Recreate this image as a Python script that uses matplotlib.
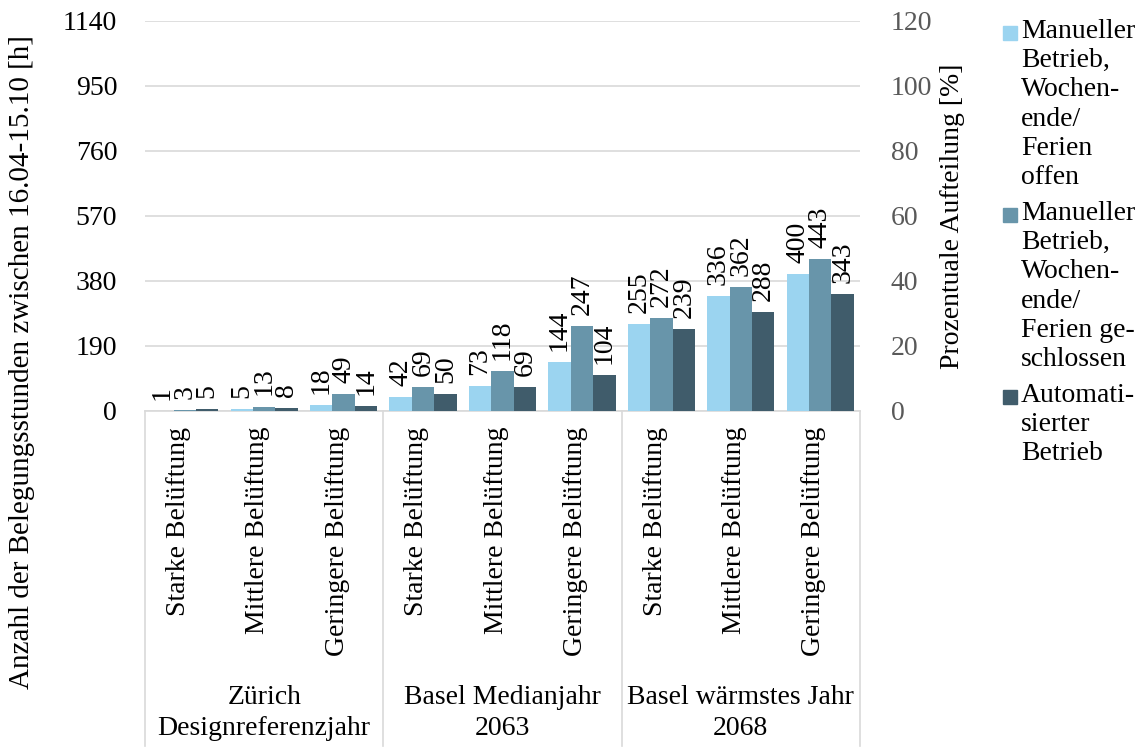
import matplotlib.pyplot as plt
from matplotlib.patches import Rectangle
import numpy as np

plt.rcParams['font.family'] = ['Liberation Serif', 'DejaVu Serif']
plt.rcParams['font.size'] = 20

groups = ["Zürich\nDesignreferenzjahr", "Basel Medianjahr\n2063", "Basel wärmstes Jahr\n2068"]
categories = ["Starke Belüftung", "Mittlere Belüftung", "Geringere Belüftung"] * 3
series_names = [
    "Manueller\nBetrieb,\nWochen-\nende/\nFerien\noffen",
    "Manueller\nBetrieb,\nWochen-\nende/\nFerien ge-\nschlossen",
    "Automati-\nsierter\nBetrieb",
]
offen = [1, 5, 18, 42, 73, 144, 255, 336, 400]
geschlossen = [3, 13, 49, 69, 118, 247, 272, 362, 443]
automatisiert = [5, 8, 14, 50, 69, 104, 239, 288, 343]
colors = ["#9BD4F0", "#6895AA", "#405C6B"]

left_ticks = [0, 190, 380, 570, 760, 950, 1140]
right_ticks = [0, 20, 40, 60, 80, 100, 120]

W, H = 1147, 747
fig = plt.figure(figsize=(W / 100, H / 100), dpi=100)
ax = fig.add_axes([145 / W, 1 - 411 / H, 715 / W, 390 / H])
ax2 = ax.twinx()

x = np.arange(len(categories)) + 0.5
w = 0.282
for i, vals in enumerate([offen, geschlossen, automatisiert]):
    pos = x + (i - 1) * w
    bars = ax.bar(pos, vals, width=w, color=colors[i], zorder=3)
    for b, v in zip(bars, vals):
        ax.annotate(str(v), (b.get_x() + b.get_width() / 2, v), xytext=(0, 8),
                    textcoords="offset points", rotation=90, ha="center", va="bottom")

ax.set_xlim(0, 9)
ax.set_ylim(0, 1140)
ax.set_yticks(left_ticks)
ax.grid(axis="y", color="#d9d9d9", linewidth=1.2, zorder=0)
ax.set_xticks([])
for s in ["top", "left", "right"]:
    ax.spines[s].set_visible(False)
    ax2.spines[s].set_visible(False)
ax.spines["bottom"].set_color("#d9d9d9")
ax.spines["bottom"].set_linewidth(1.2)
ax2.spines["bottom"].set_visible(False)
ax.tick_params(axis="y", length=0, pad=20)

ax2.set_ylim(0, 120)
ax2.set_yticks(right_ticks)
ax2.tick_params(axis="y", length=0, pad=22, labelcolor="#595959")
ax2.set_ylabel("Prozentuale Aufteilung [%]", labelpad=6)

# category and group labels below the axis
trans = ax.get_xaxis_transform()
for xi, c in zip(x, categories):
    ax.text(xi - 0.08, -0.04, c, rotation=90, ha="center", va="top", transform=trans)
for gi, g in enumerate(groups):
    ax.text(gi * 3 + 1.5, -0.775, g, ha="center", va="center", transform=trans,
            linespacing=1.3)
for xb in [0, 3, 6, 9]:
    ax.plot([xb, xb], [0, -0.86], color="#d9d9d9", lw=1.2, transform=trans, clip_on=False)

fig.text(22 / W, 1 - 362 / H, "Anzahl der Belegungsstunden zwischen 16.04-15.10 [h]",
         rotation=90, ha="center", va="center", fontsize=21)

# legend, one square per series at the first line of its label
for i, name in enumerate(series_names):
    y0 = 33 + i * 182
    fig.patches.append(Rectangle((1003 / W, 1 - (y0 + 7) / H), 14 / W, 14 / H,
                                 transform=fig.transFigure, color=colors[i]))
    fig.text(1021 / W, 1 - (y0 - 14) / H, name, ha="left", va="top", linespacing=1.22)

fig.savefig("out.png", dpi=100)
